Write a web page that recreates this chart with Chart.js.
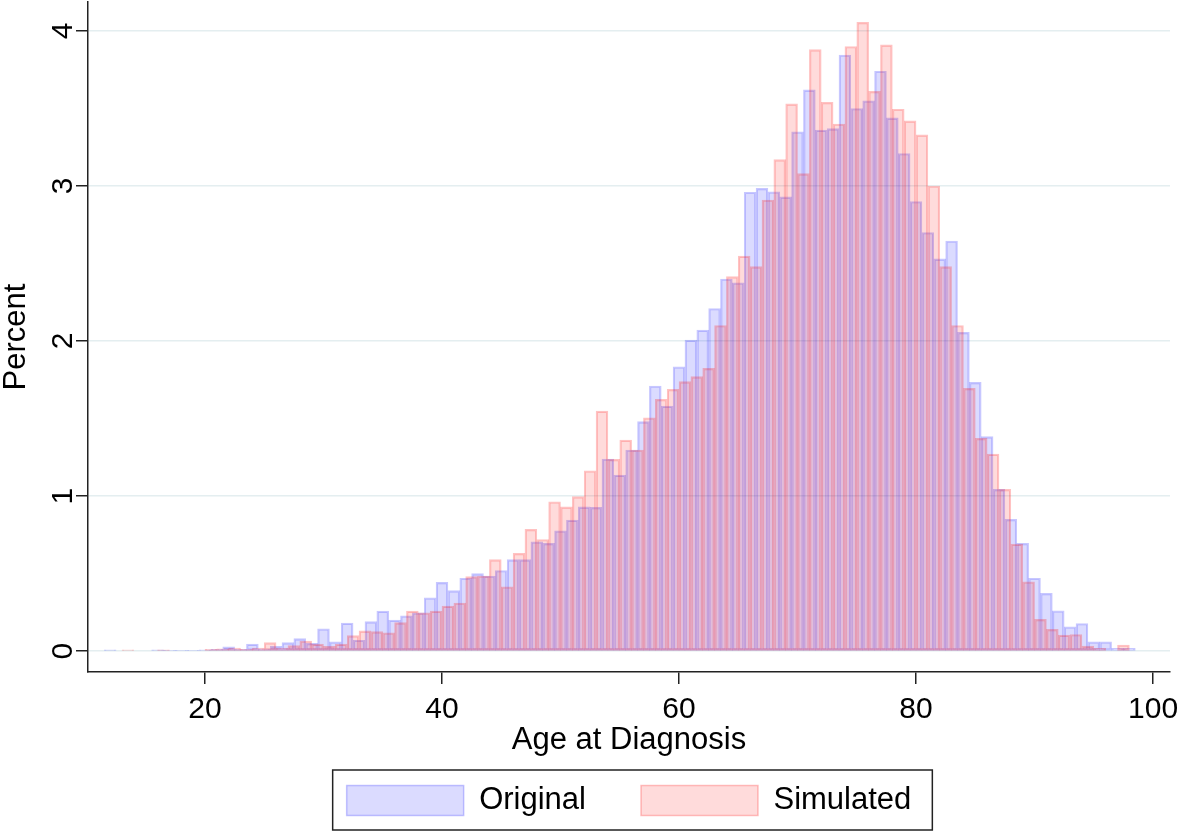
<!DOCTYPE html>
<html>
<head>
<meta charset="utf-8">
<title>Age at Diagnosis</title>
<script src="https://cdn.jsdelivr.net/npm/chart.js@4.4.1/dist/chart.umd.min.js"></script>
<style>
  html, body { margin: 0; padding: 0; background: #fff; }
  canvas { display: block; }
</style>
</head>
<body>
<canvas id="ageChart" width="1180" height="835"></canvas>
<script>
// bin centres (years) and heights (percent) for each histogram
const originalAges = [
  12, 13, 14, 15, 16, 17, 18, 19, 20, 21, 22, 23, 24, 25, 26, 27, 28, 29,
  30, 31, 32, 33, 34, 35, 36, 37, 38, 39, 40, 41, 42, 43, 44, 45, 46, 47, 48, 49,
  50, 51, 52, 53, 54, 55, 56, 57, 58, 59, 60, 61, 62, 63, 64, 65, 66, 67, 68, 69,
  70, 71, 72, 73, 74, 75, 76, 77, 78, 79, 80, 81, 82, 83, 84, 85, 86, 87, 88, 89,
  90, 91, 92, 93, 94, 95, 96, 97, 98, 99
];
const originalPercent = [
  0.008, 0, 0, 0, 0.008, 0.004, 0.004, 0.004, 0.008, 0.012, 0.028, 0.012, 0.045, 0.015, 0.03, 0.054, 0.08, 0.05,
  0.144, 0.06, 0.18, 0.07, 0.19, 0.258, 0.2, 0.228, 0.247, 0.344, 0.443, 0.39, 0.47, 0.5, 0.484, 0.52, 0.59, 0.59, 0.705, 0.695,
  0.776, 0.845, 0.93, 0.927, 1.239, 1.135, 1.297, 1.48, 1.71, 1.58, 1.834, 2.006, 2.07, 2.21, 2.4, 2.376, 2.96, 2.985, 2.963, 2.93,
  3.35, 3.62, 3.36, 3.37, 3.845, 3.5, 3.55, 3.74, 3.44, 3.21, 2.9, 2.7, 2.53, 2.645, 2.056, 1.733, 1.383, 1.043, 0.85, 0.695,
  0.47, 0.372, 0.26, 0.157, 0.178, 0.06, 0.06, 0.017, 0.017, 0
];

const simulatedAges = [
  12.5, 13.5, 14.5, 15.5, 16.5, 17.5, 18.5, 19.5, 20.5, 21.5, 22.5, 23.5, 24.5, 25.5, 26.5, 27.5, 28.5, 29.5,
  30.5, 31.5, 32.5, 33.5, 34.5, 35.5, 36.5, 37.5, 38.5, 39.5, 40.5, 41.5, 42.5, 43.5, 44.5, 45.5, 46.5, 47.5, 48.5, 49.5,
  50.5, 51.5, 52.5, 53.5, 54.5, 55.5, 56.5, 57.5, 58.5, 59.5, 60.5, 61.5, 62.5, 63.5, 64.5, 65.5, 66.5, 67.5, 68.5, 69.5,
  70.5, 71.5, 72.5, 73.5, 74.5, 75.5, 76.5, 77.5, 78.5, 79.5, 80.5, 81.5, 82.5, 83.5, 84.5, 85.5, 86.5, 87.5, 88.5, 89.5,
  90.5, 91.5, 92.5, 93.5, 94.5, 95.5, 96.5, 97.5, 98.5
];
const simulatedPercent = [
  0, 0.008, 0, 0, 0.008, 0, 0, 0, 0.012, 0.015, 0.02, 0.012, 0.02, 0.054, 0.02, 0.035, 0.065, 0.045,
  0.03, 0.045, 0.1, 0.13, 0.125, 0.118, 0.183, 0.258, 0.247, 0.258, 0.29, 0.31, 0.48, 0.484, 0.59, 0.415, 0.63, 0.785, 0.72, 0.963,
  0.93, 0.996, 1.163, 1.548, 1.237, 1.361, 1.297, 1.505, 1.624, 1.688, 1.738, 1.77, 1.824, 2.1, 2.415, 2.548, 2.48, 2.91, 3.17, 3.53,
  3.08, 3.88, 3.54, 3.4, 3.9, 4.056, 3.61, 3.91, 3.495, 3.42, 3.33, 3.0, 2.48, 2.1, 1.695, 1.372, 1.27, 1.043, 0.69, 0.447,
  0.204, 0.14, 0.103, 0.107, 0.032, 0.017, 0, 0.039, 0
];

const xTicks = [20, 40, 60, 80, 100];
const yTicks = [0, 1, 2, 3, 4];

const FONT = "'Liberation Sans', Arial, sans-serif";
const X_MIN = 10.13, X_MAX = 101.43;

const toPoints = (xs, ys) => xs.map((x, i) => ({ x, y: ys[i] }));
const fixedTicks = values => scale => { scale.ticks = values.map(v => ({ value: v })); };

// Stata draws a frame round the legend keys
const legendFrame = {
  id: 'legendFrame',
  afterDraw(chart) {
    const boxes = chart.legend && chart.legend.legendHitBoxes;
    if (!boxes || !boxes.length) return;
    const first = boxes[0];
    const last = boxes[boxes.length - 1];
    const ctx = chart.ctx;
    ctx.save();
    ctx.strokeStyle = '#222';
    ctx.lineWidth = 1.5;
    ctx.strokeRect(first.left - 14, first.top - 15,
      last.left + last.width - first.left + 35, first.height + 29);
    ctx.restore();
  }
};

new Chart(document.getElementById('ageChart'), {
  type: 'bar',
  data: {
    datasets: [
      {
        label: 'Original',
        data: toPoints(originalAges, originalPercent),
        xAxisID: 'x',
        backgroundColor: 'rgba(0, 0, 255, 0.14)',
        borderColor: 'rgba(0, 0, 255, 0.22)',
        borderWidth: 1.5,
        borderSkipped: false,
        order: 1
      },
      {
        label: 'Simulated',
        data: toPoints(simulatedAges, simulatedPercent),
        xAxisID: 'xSim',
        backgroundColor: 'rgba(255, 0, 0, 0.14)',
        borderColor: 'rgba(255, 0, 0, 0.24)',
        borderWidth: 1.5,
        borderSkipped: false,
        order: 0
      }
    ]
  },
  options: {
    responsive: false,
    animation: false,
    events: [],
    grouped: false,
    barPercentage: 1,
    categoryPercentage: 1,
    layout: { padding: { top: 2, right: 10, bottom: 9, left: 0 } },
    plugins: {
      tooltip: { enabled: false },
      legend: {
        position: 'bottom',
        fullSize: false,
        labels: {
          boxWidth: 117,
          boxHeight: 30,
          padding: 55,
          color: '#000',
          font: { family: FONT, size: 31 },
          sort: (a, b) => a.datasetIndex - b.datasetIndex
        }
      }
    },
    scales: {
      x: {
        type: 'linear',
        position: 'bottom',
        min: X_MIN,
        max: X_MAX,
        offset: false,
        afterBuildTicks: fixedTicks(xTicks),
        afterFit: s => { s.height = 58; s.paddingLeft = 0; s.paddingRight = 0; },
        grid: {
          offset: false,
          drawOnChartArea: false,
          drawTicks: true,
          tickLength: 12,
          tickColor: '#222',
          lineWidth: 1.5
        },
        border: { color: '#222', width: 1.5 },
        ticks: {
          padding: 8,
          color: '#000',
          maxRotation: 0,
          autoSkip: false,
          font: { family: FONT, size: 30 }
        },
        title: {
          display: true,
          text: 'Age at Diagnosis',
          color: '#000',
          font: { family: FONT, size: 31, lineHeight: 1 },
          padding: { top: 0, bottom: -26 }
        }
      },
      xSim: {
        type: 'linear',
        display: false,
        min: X_MIN,
        max: X_MAX,
        offset: false,
        afterBuildTicks: fixedTicks(xTicks),
        grid: { offset: false }
      },
      y: {
        type: 'linear',
        min: -0.135,
        max: 4.187,
        afterBuildTicks: fixedTicks(yTicks),
        afterFit: s => { s.width = 88; s.paddingTop = 0; s.paddingBottom = 0; },
        grid: {
          color: '#e4eef0',
          lineWidth: 1.5,
          drawTicks: true,
          tickLength: 12,
          tickColor: '#222'
        },
        border: { color: '#222', width: 1.5 },
        ticks: {
          padding: 4,
          color: '#000',
          minRotation: 90,
          maxRotation: 90,
          crossAlign: 'center',
          font: { family: FONT, size: 30 }
        },
        title: {
          display: true,
          text: 'Percent',
          color: '#000',
          font: { family: FONT, size: 31, lineHeight: 1 },
          padding: { top: 1, bottom: 0 }
        }
      }
    }
  },
  plugins: [legendFrame]
});
</script>
</body>
</html>
